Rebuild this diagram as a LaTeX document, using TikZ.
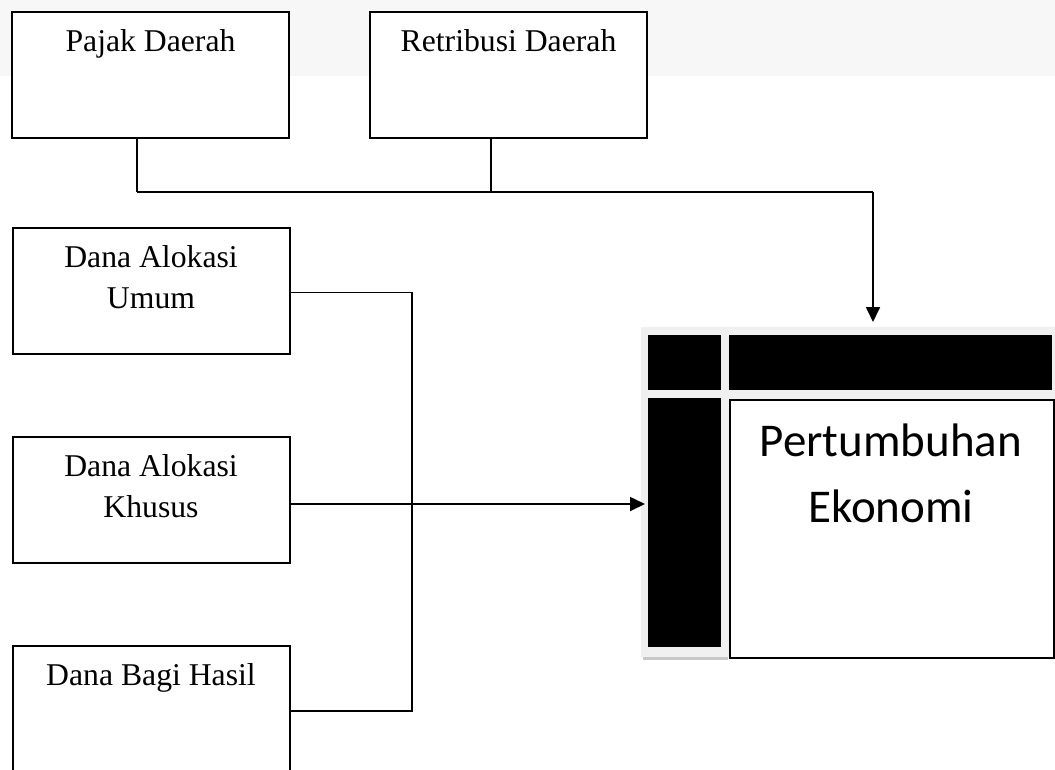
\documentclass[tikz,border=0pt]{standalone}
\usepackage{fontspec}
\setmainfont{Liberation Serif}
\newfontfamily\calibrifont{Carlito}
\usetikzlibrary{arrows.meta, positioning}

\tikzset{
  box/.style={draw, line width=2pt, minimum width=277pt, minimum height=126pt, inner sep=0pt},
  boxtext/.style={font=\fontsize{31.7}{41}\selectfont, align=center, inner sep=0pt},
  conn/.style={line width=1.7pt},
  thinconn/.style={line width=1.1pt},
  arr/.style={conn, -{Triangle[length=15pt,width=14pt]}},
}

\begin{document}
\begin{tikzpicture}[x=1pt, y=-1pt]
  \useasboundingbox (0,0) rectangle (1055,769);

  % Light band at the top
  \fill[black!3] (0,0) rectangle (1055,76);

  % Source boxes
  \node[box, fill=white] (pajak)     at (150.5, 75) {};
  \node[box, fill=white] (retribusi) at (508.5, 75) {};
  \node[box] (umum)   at (151, 290.5) {};
  \node[box] (khusus) at (151, 500) {};
  \node[box] (bagi)   at (151, 709) {};

  % Box labels
  \node[boxtext, below=18.5pt of pajak.north]     (pajaktxt)  {Pajak Daerah};
  \node[boxtext, below=18.5pt of retribusi.north] (retritxt)  {Retribusi Daerah};
  \node[boxtext, below=18.5pt of umum.north]      (umumtxt)   {Dana Alokasi\\Umum};
  \node[boxtext, below=18.5pt of khusus.north]    (khusustxt) {Dana Alokasi\\Khusus};
  \node[boxtext, below=18.5pt of bagi.north]      (bagitxt)   {Dana Bagi Hasil};

  % Target frame
  \fill[black!6] (641,327) rectangle (1055,657);
  \fill[black!22] (643,657) rectangle (728,660);
  \node[fill=black, minimum width=73pt, minimum height=55pt, inner sep=0pt, anchor=north west] (cornerblk) at (648,335) {};
  \node[fill=black, minimum width=323pt, minimum height=55pt, inner sep=0pt, anchor=north west] (topblk) at (729,335) {};
  \node[fill=black, minimum width=73pt, minimum height=249pt, inner sep=0pt, anchor=north west] (sideblk) at (648,398) {};
  \node[draw, fill=white, line width=1.5pt, minimum width=324pt, minimum height=258pt, inner sep=0pt, anchor=north west] (target) at (729,399) {};
  \coordinate (frame) at (641,327);
  \node[font=\calibrifont\fontsize{47}{66}\selectfont, align=center, inner sep=0pt, anchor=north] (targettxt) at (891,424) {Pertumbuhan\\Ekonomi};

  % Upper connectors
  \coordinate (join) at (873,192);
  \coordinate (pajakout) at ([xshift=-13.5pt]pajak.south);
  \coordinate (retriout) at ([xshift=-17.5pt]retribusi.south);
  \draw[thinconn] (pajakout) -- (pajakout |- join);
  \draw[thinconn] (retriout) -- (retriout |- join);
  \draw[conn] (pajakout |- join) -- (join);
  \draw[arr] (join) -- ([yshift=5pt]frame -| join);

  % Left connectors
  \coordinate (bus) at (412,0);
  \coordinate (umumout) at ([yshift=-2pt]umum.east);
  \coordinate (bagiout) at ([yshift=-2pt]bagi.east);
  \coordinate (khususout) at ([yshift=-4pt]khusus.east);
  \draw[conn] (umumout) -| (bus |- bagiout) -- (bagiout);
  \draw[arr] (khususout) -- ([xshift=4pt]khususout -| frame);
\end{tikzpicture}
\end{document}
